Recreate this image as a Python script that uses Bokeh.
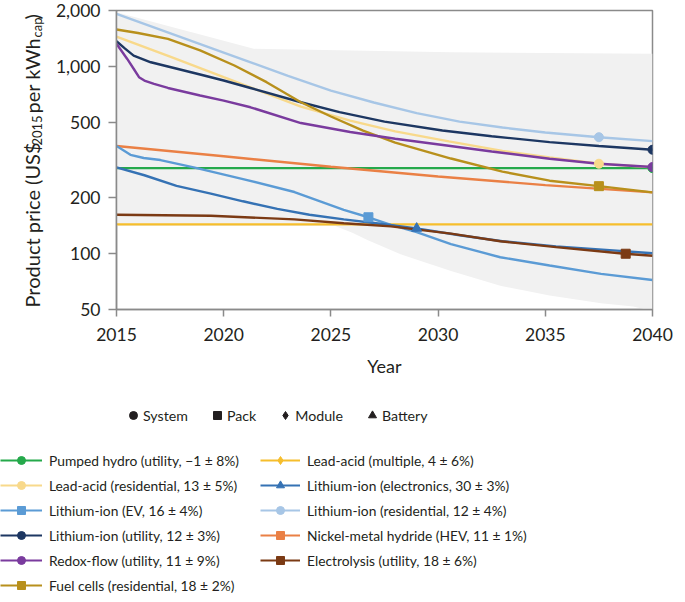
import math
from bokeh.plotting import figure
from bokeh.layouts import column, row
from bokeh.models import (Range1d, FixedTicker, NumeralTickFormatter, Legend,
                          LegendItem, Label)
from bokeh.embed import file_html
from bokeh.resources import INLINE

# ---------------- data ----------------
year_ticks = [2015, 2020, 2025, 2030, 2035, 2040]
price_ticks = [50, 100, 200, 500, 1000, 2000]

band_upper_years = [2015, 2021.4, 2030.6, 2040]
band_upper = [1958, 1246, 1195, 1172]
band_lower_years = [2015, 2025.2, 2026.0, 2026.7, 2028.25, 2030.6, 2032.9, 2035.2, 2037.6, 2039.1, 2040]
band_lower = [140, 140, 129, 118, 99, 80.5, 67, 59.4, 54, 51.9, 49]

pumped_hydro_years = [2015, 2040]
pumped_hydro = [286, 286]
pumped_hydro_mark_years = [2040]
pumped_hydro_mark = [286]

lead_acid_multi_years = [2015, 2040]
lead_acid_multi = [143, 143]
lead_acid_multi_mark_years = []
lead_acid_multi_mark = []

lead_acid_res_years = [2015, 2017.5, 2020, 2023.6, 2025.9, 2028, 2030.5, 2033, 2035.2, 2037.5, 2040]
lead_acid_res = [1450, 1133, 878, 611, 514, 450, 398, 354, 326, 302, 289]
lead_acid_res_mark_years = [2037.5]
lead_acid_res_mark = [302]

li_elec_years = [2015, 2016.3, 2017.8, 2019.4, 2020.9, 2022.5, 2024, 2025.6, 2027.3, 2029, 2031, 2033, 2035.5, 2038, 2040]
li_elec = [289, 262, 230, 209, 190, 173, 161, 152, 144, 136, 125, 116, 109, 104, 100]
li_elec_mark_years = [2029]
li_elec_mark = [136]

li_ev_years = [2015, 2015.65, 2016.27, 2017.05, 2018.6, 2020.9, 2023.3, 2025.6, 2026.75, 2027.8, 2029, 2030.6, 2032.9, 2035.2, 2037.6, 2040]
li_ev = [376, 337, 324, 316, 289, 250, 213, 171, 156, 142, 130, 112, 95.3, 86, 77.6, 72]
li_ev_mark_years = [2026.75]
li_ev_mark = [156]

li_res_years = [2015, 2017, 2019, 2021, 2023, 2025, 2027, 2029, 2031, 2033, 2035, 2037.5, 2040]
li_res = [1920, 1586, 1310, 1082, 892, 745, 643, 564, 508, 472, 444, 419, 399]
li_res_mark_years = [2037.5]
li_res_mark = [419]

li_util_years = [2015, 2015.4, 2015.8, 2016.6, 2017.4, 2018.9, 2020, 2021.25, 2023.6, 2025.4, 2027.5, 2030.2, 2032.5, 2035.2, 2037.5, 2040]
li_util = [1369, 1250, 1147, 1056, 1002, 908, 843, 769, 645, 571, 508, 455, 424, 394, 376, 359]
li_util_mark_years = [2040]
li_util_mark = [359]

nimh_years = [2015, 2020, 2025, 2030, 2035, 2040]
nimh = [376, 331, 291, 258, 232, 212]
nimh_mark_years = []
nimh_mark = []

redox_years = [2015, 2015.5, 2015.8, 2016.05, 2016.3, 2016.75, 2017.4, 2018.9, 2020, 2021.25, 2023.6, 2025.9, 2028, 2030.4, 2032.5, 2035.2, 2037.5, 2040]
redox = [1326, 1100, 975, 878, 843, 809, 769, 701, 658, 606, 499, 447, 411, 378, 351, 321, 302, 290]
redox_mark_years = [2040]
redox_mark = [290]

electrolysis_years = [2015, 2019.4, 2023.3, 2025.6, 2027.8, 2030.6, 2032.9, 2035.5, 2038.7, 2040]
electrolysis = [161, 159, 152, 145, 139.5, 127.5, 116, 108, 99.5, 97]
electrolysis_mark_years = [2038.75]
electrolysis_mark = [99.5]

fuel_cells_years = [2015, 2016, 2017.4, 2018.9, 2020.5, 2022, 2023.6, 2025, 2026.5, 2028, 2030.6, 2033, 2035.2, 2037.5, 2040]
fuel_cells = [1582, 1515, 1410, 1222, 1015, 826, 645, 541, 454, 392, 322, 274, 245, 229, 212]
fuel_cells_mark_years = [2037.5]
fuel_cells_mark = [229]

marker_type_labels = ["System", "Pack", "Module", "Battery"]
marker_type_shapes = ["circle", "square", "diamond", "triangle"]

# ---------------- style ----------------
FONT = "Lato"
TXT = "#231f20"
AX = "#8a8a8a"

series = [
    ("pumped", "Pumped hydro (utility, \u22121 \u00b1 8%)", "#25a94b", pumped_hydro_years, pumped_hydro, pumped_hydro_mark_years, pumped_hydro_mark, "circle"),
    ("la_multi", "Lead-acid (multiple, 4 \u00b1 6%)", "#f6be2c", lead_acid_multi_years, lead_acid_multi, lead_acid_multi_mark_years, lead_acid_multi_mark, "diamond"),
    ("nimh", "Nickel-metal hydride (HEV, 11 \u00b1 1%)", "#ea8045", nimh_years, nimh, nimh_mark_years, nimh_mark, "square"),
    ("la_res", "Lead-acid (residential, 13 \u00b1 5%)", "#f8d98b", lead_acid_res_years, lead_acid_res, lead_acid_res_mark_years, lead_acid_res_mark, "circle"),
    ("li_res", "Lithium-ion (residential, 12 \u00b1 4%)", "#a7c6e6", li_res_years, li_res, li_res_mark_years, li_res_mark, "circle"),
    ("li_util", "Lithium-ion (utility, 12 \u00b1 3%)", "#1d3762", li_util_years, li_util, li_util_mark_years, li_util_mark, "circle"),
    ("fuel", "Fuel cells (residential, 18 \u00b1 2%)", "#b8901c", fuel_cells_years, fuel_cells, fuel_cells_mark_years, fuel_cells_mark, "square"),
    ("redox", "Redox-flow (utility, 11 \u00b1 9%)", "#7a3b9e", redox_years, redox, redox_mark_years, redox_mark, "circle"),
    ("li_ev", "Lithium-ion (EV, 16 \u00b1 4%)", "#5b9bd5", li_ev_years, li_ev, li_ev_mark_years, li_ev_mark, "square"),
    ("li_elec", "Lithium-ion (electronics, 30 \u00b1 3%)", "#3572b4", li_elec_years, li_elec, li_elec_mark_years, li_elec_mark, "triangle"),
    ("elec", "Electrolysis (utility, 18 \u00b1 6%)", "#7b3a14", electrolysis_years, electrolysis, electrolysis_mark_years, electrolysis_mark, "square"),
]
sdict = {s[0]: s for s in series}
draw_order = [s[0] for s in series]
left_order = ["pumped", "la_res", "li_ev", "li_util", "redox", "fuel"]
right_order = ["la_multi", "li_elec", "li_res", "nimh", "elec"]

TOTAL_W, TOTAL_H = 677, 594
LAB_W = 45
TOP_H = 390
FL, FR, FT, FB = 116, 652, 10, 309   # frame edges in page pixels

# ---------------- main chart ----------------
mw = TOTAL_W - LAB_W
p = figure(width=mw, height=TOP_H, output_backend="svg", toolbar_location=None,
           y_axis_type="log", x_range=Range1d(2015, 2040), y_range=Range1d(50, 2000),
           min_border_left=FL - LAB_W, min_border_right=TOTAL_W - FR,
           min_border_top=FT, min_border_bottom=TOP_H - FB)
p.xgrid.visible = False
p.ygrid.visible = False
p.outline_line_color = AX
p.outline_line_width = 1.5

for ax in (p.xaxis[0], p.yaxis[0]):
    ax.axis_line_color = AX
    ax.axis_line_width = 1.5
    ax.major_tick_line_color = AX
    ax.major_tick_line_width = 1.5
    ax.major_tick_in = 0
    ax.minor_tick_line_color = None
    ax.major_label_text_font = FONT
    ax.major_label_text_color = TXT
    ax.major_label_text_font_size = "17.5px"

p.xaxis.ticker = FixedTicker(ticks=year_ticks)
p.xaxis.major_tick_out = 7
p.xaxis.major_label_standoff = 11
p.xaxis.axis_label = "Year"
p.xaxis.axis_label_text_font = FONT
p.xaxis.axis_label_text_font_style = "normal"
p.xaxis.axis_label_text_font_size = "18px"
p.xaxis.axis_label_text_color = TXT
p.xaxis.axis_label_standoff = 11

p.yaxis.ticker = FixedTicker(ticks=price_ticks)
p.yaxis.formatter = NumeralTickFormatter(format="0,0")
p.yaxis.major_tick_out = 8
p.yaxis.major_label_standoff = 8

band_x = band_upper_years + band_lower_years[::-1]
band_y = band_upper + band_lower[::-1]
p.patch(band_x, band_y, fill_color="#f1f1f1", line_color=None)

for key in draw_order:
    k, lab_, col, xs, ys, mx, my, mk = sdict[key]
    p.line(xs, ys, line_color=col, line_width=2.4)
for key in draw_order:
    k, lab_, col, xs, ys, mx, my, mk = sdict[key]
    if len(mx):
        p.scatter(mx, my, marker=mk, size=10 if mk == "triangle" else 9,
                  fill_color=col, line_color=col)

# ---------------- y-axis title (with subscripts) ----------------
lab = figure(width=LAB_W, height=TOP_H, output_backend="svg", toolbar_location=None,
             x_range=Range1d(0, 1), y_range=Range1d(0, 1),
             min_border_left=0, min_border_right=0,
             min_border_top=FT, min_border_bottom=TOP_H - FB,
             x_axis_location=None, y_axis_location=None)
lab.grid.visible = False
lab.outline_line_color = None

def ylab(text, page_y, size, x):
    # y measured upward from the frame bottom (page y = FB)
    lab.add_layout(Label(x=x, y=FB - page_y, x_units="screen", y_units="screen",
                         text=text, angle=math.pi / 2, text_align="left",
                         text_baseline="middle", text_font=FONT,
                         text_font_size=size, text_color=TXT))

ylab("Product price (US$", 307, "20px", 31)
ylab("2015", 145, "13px", 36)
ylab("per kWh", 113, "20px", 31)
ylab("cap", 37, "13px", 36)
ylab(")", 19, "20px", 31)

# ---------------- legends ----------------
LEG_H = TOTAL_H - TOP_H
leg = figure(width=TOTAL_W, height=LEG_H, output_backend="svg", toolbar_location=None,
             x_range=Range1d(0, 1), y_range=Range1d(0, 1), min_border=0,
             x_axis_location=None, y_axis_location=None)
leg.grid.visible = False
leg.outline_line_color = None

# legend proxies: same data, but outside this panel's visible range
proxies = {}
for key in draw_order:
    k, labl, col, xs, ys, mx, my, mk = sdict[key]
    lr = leg.line(xs, ys, line_color=col, line_width=2.2)
    sr = leg.scatter(xs[:1], ys[:1], marker=mk, fill_color=col, line_color=col)
    proxies[key] = [lr, sr]

common = dict(orientation="vertical", glyph_height=20, label_height=20, spacing=5,
              padding=0, margin=0, border_line_alpha=0, background_fill_alpha=0,
              label_text_font=FONT, label_text_font_size="13.8px",
              label_text_color=TXT, label_standoff=7)
ROW1 = 460 - TOP_H          # centre of first row inside legend panel
top_edge = ROW1 - 10
left_h = len(left_order) * 20 + (len(left_order) - 1) * 5
right_h = len(right_order) * 20 + (len(right_order) - 1) * 5
leg_left = Legend(items=[LegendItem(label=sdict[k][1], renderers=proxies[k]) for k in left_order],
                  location=(0, LEG_H - (top_edge + left_h)), glyph_width=42, **common)
leg_right = Legend(items=[LegendItem(label=sdict[k][1], renderers=proxies[k]) for k in right_order],
                   location=(260, LEG_H - (top_edge + right_h)), glyph_width=40, **common)

type_items = []
for labl, mk in zip(marker_type_labels, marker_type_shapes):
    r = leg.scatter(year_ticks[:1], price_ticks[:1], marker=mk, fill_color=TXT, line_color=TXT)
    type_items.append(LegendItem(label=labl, renderers=[r]))
TROW = 415 - TOP_H
leg_type = Legend(items=type_items, orientation="horizontal",
                  location=(123, LEG_H - (TROW + 10)),
                  glyph_width=20, glyph_height=20, label_height=20, spacing=19,
                  padding=0, margin=0, border_line_alpha=0, background_fill_alpha=0,
                  label_text_font=FONT, label_text_font_size="14.2px",
                  label_text_color=TXT, label_standoff=0)
for lg in (leg_left, leg_right, leg_type):
    leg.add_layout(lg)

layout = column(row(lab, p, spacing=0), leg, spacing=0)
open("out.html", "w").write(file_html(layout, INLINE))
